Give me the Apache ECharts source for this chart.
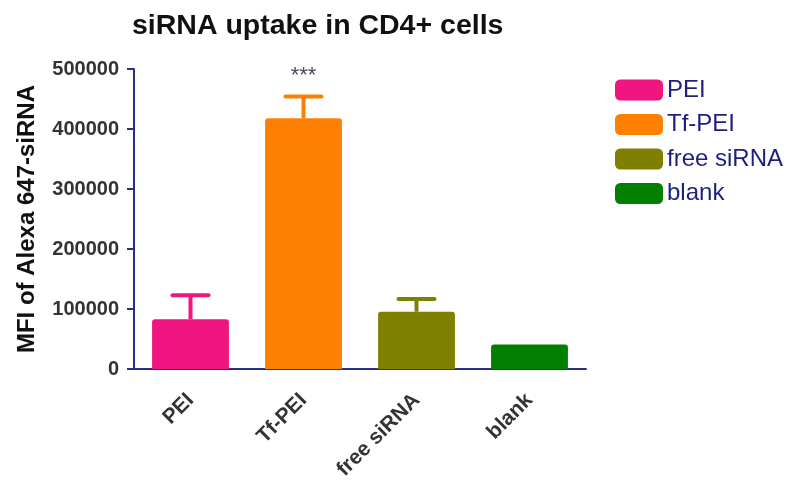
<!DOCTYPE html>
<html><head><meta charset="utf-8">
<script src="https://cdn.jsdelivr.net/npm/echarts@6/dist/echarts.min.js"></script>
<style>html,body{margin:0;padding:0;background:#fff}#c{width:800px;height:492px}</style>
</head><body><div id="c"></div>
<script>
const categories = ['PEI', 'Tf-PEI', 'free siRNA', 'blank'];
const means = [83000, 418000, 95500, 41000];
const errors = [40000, 36000, 21000, 0];
const significance = ['', '***', '', ''];
const colors = ['#f0157f', '#ff8000', '#7f7f00', '#007f00'];
const yTicks = { min: 0, max: 500000, interval: 100000 };

const FONT = '"Liberation Sans", Arial, sans-serif';
const axisColor = '#2b2f8a';

const barSeries = categories.map((name, i) => ({
  name: name,
  type: 'bar',
  stack: 'all',
  barWidth: '68%',
  itemStyle: { color: colors[i], borderRadius: [3, 3, 0, 0] },
  data: categories.map((c, j) => j === i ? means[i] : '-'),
  z: 2
}));

const errSeries = {
  type: 'custom',
  name: 'err',
  z: 3,
  data: categories.map((c, i) => [i, means[i], errors[i]]),
  renderItem: function (params, api) {
    const i = api.value(0), m = api.value(1), e = api.value(2);
    const sig = significance[i];
    const base = api.coord([i, m]);
    const top = api.coord([i, m + e]);
    const children = [];
    if (e > 0) {
      const col = colors[i];
      children.push({ type: 'line', shape: { x1: base[0], y1: base[1], x2: top[0], y2: top[1] },
        style: { stroke: col, lineWidth: 4 } });
      children.push({ type: 'line', shape: { x1: top[0] - 18, y1: top[1], x2: top[0] + 18, y2: top[1] },
        style: { stroke: col, lineWidth: 4, lineCap: 'round' } });
    }
    if (sig) {
      children.push({ type: 'text', x: top[0], y: top[1] - 21,
        style: { text: sig, fill: '#4a4a5c', font: '22px ' + FONT, align: 'center', verticalAlign: 'middle' } });
    }
    return { type: 'group', children: children };
  }
};

const chart = echarts.init(document.getElementById('c'));
chart.setOption({
  animation: false,
  backgroundColor: '#ffffff',
  title: {
    text: 'siRNA uptake in CD4+ cells',
    left: 127, top: 7,
    textStyle: { fontFamily: FONT, fontWeight: 'bold', fontSize: 28.5, color: '#111' }
  },
  legend: {
    orient: 'vertical',
    left: 610, top: 73,
    itemWidth: 48, itemHeight: 21, itemGap: 10.5,
    icon: 'roundRect',
    data: categories,
    textStyle: { fontFamily: FONT, fontSize: 24, lineHeight: 23, color: '#1e1e80', padding: [0, 0, 0, -1] }
  },
  grid: { left: 134, right: 214, top: 69, bottom: 123, containLabel: false },
  xAxis: {
    type: 'category',
    data: categories,
    boundaryGap: true,
    axisLine: { lineStyle: { color: axisColor, width: 2 } },
    axisTick: { alignWithLabel: true, length: 8, lineStyle: { color: axisColor, width: 2 } },
    axisLabel: { rotate: 45, margin: 28, interval: 0, fontFamily: FONT, fontWeight: 'bold', fontSize: 21, color: '#333' }
  },
  yAxis: {
    type: 'value',
    min: yTicks.min, max: yTicks.max, interval: yTicks.interval,
    name: 'MFI of Alexa 647-siRNA',
    nameLocation: 'middle',
    nameGap: 95,
    nameTextStyle: { fontFamily: FONT, fontWeight: 'bold', fontSize: 24, color: '#111' },
    axisLine: { show: true, lineStyle: { color: axisColor, width: 2 } },
    axisTick: { show: true, length: 7, lineStyle: { color: axisColor, width: 2 } },
    splitLine: { show: false },
    axisLabel: { margin: 15, fontFamily: FONT, fontWeight: 'bold', fontSize: 20, color: '#333',
      formatter: v => String(v) }
  },
  series: barSeries.concat([errSeries])
});
</script></body></html>
